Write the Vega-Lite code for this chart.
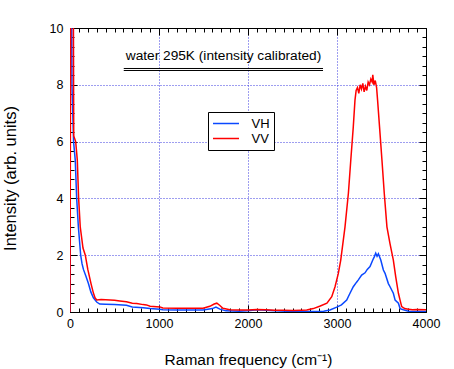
{
  "$schema": "https://vega.github.io/schema/vega-lite/v6.json",
  "width": 356,
  "height": 284,
  "autosize": "none",
  "padding": {"left": 70, "top": 28, "right": 28, "bottom": 57},
  "background": "white",
  "config": {
    "font": "Liberation Sans",
    "view": {"stroke": "black", "strokeWidth": 1},
    "axis": {"domain": false, "grid": false, "labelColor": "black", "titleColor": "black", "titleFontWeight": "normal", "tickColor": "black"}
  },
  "datasets": {
    "spectra": [
      {"f": 0, "i": 0, "s": "VH"}, {"f": 5, "i": 14, "s": "VH"}, {"f": 15, "i": 14, "s": "VH"}, {"f": 22, "i": 8.0, "s": "VH"},
      {"f": 40, "i": 6.0, "s": "VH"}, {"f": 59, "i": 5.35, "s": "VH"}, {"f": 75, "i": 4.0, "s": "VH"}, {"f": 94, "i": 3.0, "s": "VH"},
      {"f": 120, "i": 2.0, "s": "VH"}, {"f": 135, "i": 1.7, "s": "VH"}, {"f": 151, "i": 1.5, "s": "VH"}, {"f": 180, "i": 1.25, "s": "VH"},
      {"f": 207, "i": 1.0, "s": "VH"}, {"f": 235, "i": 0.7, "s": "VH"}, {"f": 263, "i": 0.5, "s": "VH"}, {"f": 300, "i": 0.35, "s": "VH"},
      {"f": 334, "i": 0.28, "s": "VH"}, {"f": 400, "i": 0.27, "s": "VH"}, {"f": 500, "i": 0.26, "s": "VH"}, {"f": 634, "i": 0.24, "s": "VH"},
      {"f": 700, "i": 0.18, "s": "VH"}, {"f": 822, "i": 0.15, "s": "VH"}, {"f": 900, "i": 0.12, "s": "VH"}, {"f": 1009, "i": 0.1, "s": "VH"},
      {"f": 1043, "i": 0.08, "s": "VH"}, {"f": 1200, "i": 0.07, "s": "VH"}, {"f": 1495, "i": 0.07, "s": "VH"}, {"f": 1600, "i": 0.12, "s": "VH"},
      {"f": 1640, "i": 0.17, "s": "VH"}, {"f": 1684, "i": 0.1, "s": "VH"}, {"f": 1750, "i": 0.04, "s": "VH"}, {"f": 1900, "i": 0.03, "s": "VH"},
      {"f": 2000, "i": 0.04, "s": "VH"}, {"f": 2100, "i": 0.08, "s": "VH"}, {"f": 2200, "i": 0.06, "s": "VH"}, {"f": 2300, "i": 0.04, "s": "VH"},
      {"f": 2500, "i": 0.02, "s": "VH"}, {"f": 2700, "i": 0.02, "s": "VH"}, {"f": 2850, "i": 0.03, "s": "VH"}, {"f": 2921, "i": 0.07, "s": "VH"},
      {"f": 2997, "i": 0.17, "s": "VH"}, {"f": 3050, "i": 0.25, "s": "VH"}, {"f": 3109, "i": 0.42, "s": "VH"}, {"f": 3146, "i": 0.66, "s": "VH"},
      {"f": 3183, "i": 0.89, "s": "VH"}, {"f": 3220, "i": 1.05, "s": "VH"}, {"f": 3240, "i": 1.13, "s": "VH"}, {"f": 3277, "i": 1.3, "s": "VH"},
      {"f": 3315, "i": 1.38, "s": "VH"}, {"f": 3340, "i": 1.5, "s": "VH"}, {"f": 3371, "i": 1.6, "s": "VH"}, {"f": 3402, "i": 1.83, "s": "VH"},
      {"f": 3420, "i": 1.95, "s": "VH"}, {"f": 3435, "i": 2.07, "s": "VH"}, {"f": 3450, "i": 1.96, "s": "VH"}, {"f": 3465, "i": 2.05, "s": "VH"},
      {"f": 3492, "i": 1.83, "s": "VH"}, {"f": 3521, "i": 1.48, "s": "VH"}, {"f": 3540, "i": 1.36, "s": "VH"}, {"f": 3577, "i": 1.0, "s": "VH"},
      {"f": 3596, "i": 0.89, "s": "VH"}, {"f": 3633, "i": 0.66, "s": "VH"}, {"f": 3653, "i": 0.42, "s": "VH"}, {"f": 3690, "i": 0.31, "s": "VH"},
      {"f": 3709, "i": 0.12, "s": "VH"}, {"f": 3746, "i": 0.08, "s": "VH"}, {"f": 3802, "i": 0.03, "s": "VH"}, {"f": 3900, "i": 0.02, "s": "VH"},
      {"f": 4000, "i": 0.02, "s": "VH"},
      {"f": 0, "i": 0, "s": "VV"}, {"f": 10, "i": 14, "s": "VV"}, {"f": 35, "i": 14, "s": "VV"}, {"f": 42, "i": 6.2, "s": "VV"},
      {"f": 64, "i": 6.0, "s": "VV"}, {"f": 82, "i": 5.35, "s": "VV"}, {"f": 97, "i": 4.0, "s": "VV"}, {"f": 115, "i": 3.0, "s": "VV"},
      {"f": 146, "i": 2.25, "s": "VV"}, {"f": 172, "i": 2.0, "s": "VV"}, {"f": 200, "i": 1.5, "s": "VV"}, {"f": 236, "i": 1.0, "s": "VV"},
      {"f": 260, "i": 0.7, "s": "VV"}, {"f": 281, "i": 0.5, "s": "VV"}, {"f": 300, "i": 0.42, "s": "VV"}, {"f": 350, "i": 0.44, "s": "VV"},
      {"f": 400, "i": 0.43, "s": "VV"}, {"f": 450, "i": 0.42, "s": "VV"}, {"f": 500, "i": 0.41, "s": "VV"}, {"f": 560, "i": 0.39, "s": "VV"},
      {"f": 634, "i": 0.36, "s": "VV"}, {"f": 700, "i": 0.31, "s": "VV"}, {"f": 750, "i": 0.3, "s": "VV"}, {"f": 822, "i": 0.26, "s": "VV"},
      {"f": 859, "i": 0.25, "s": "VV"}, {"f": 900, "i": 0.2, "s": "VV"}, {"f": 1009, "i": 0.18, "s": "VV"}, {"f": 1043, "i": 0.14, "s": "VV"},
      {"f": 1200, "i": 0.13, "s": "VV"}, {"f": 1350, "i": 0.13, "s": "VV"}, {"f": 1495, "i": 0.13, "s": "VV"}, {"f": 1571, "i": 0.2, "s": "VV"},
      {"f": 1620, "i": 0.28, "s": "VV"}, {"f": 1650, "i": 0.31, "s": "VV"}, {"f": 1684, "i": 0.23, "s": "VV"}, {"f": 1718, "i": 0.13, "s": "VV"},
      {"f": 1797, "i": 0.08, "s": "VV"}, {"f": 1900, "i": 0.07, "s": "VV"}, {"f": 2000, "i": 0.07, "s": "VV"}, {"f": 2100, "i": 0.09, "s": "VV"},
      {"f": 2200, "i": 0.08, "s": "VV"}, {"f": 2300, "i": 0.06, "s": "VV"}, {"f": 2400, "i": 0.06, "s": "VV"}, {"f": 2500, "i": 0.05, "s": "VV"},
      {"f": 2600, "i": 0.06, "s": "VV"}, {"f": 2660, "i": 0.07, "s": "VV"}, {"f": 2734, "i": 0.12, "s": "VV"}, {"f": 2812, "i": 0.21, "s": "VV"},
      {"f": 2887, "i": 0.31, "s": "VV"}, {"f": 2941, "i": 0.54, "s": "VV"}, {"f": 2978, "i": 0.89, "s": "VV"}, {"f": 3015, "i": 1.36, "s": "VV"},
      {"f": 3042, "i": 1.83, "s": "VV"}, {"f": 3090, "i": 3.0, "s": "VV"}, {"f": 3128, "i": 4.18, "s": "VV"}, {"f": 3155, "i": 5.35, "s": "VV"},
      {"f": 3183, "i": 6.52, "s": "VV"}, {"f": 3202, "i": 7.46, "s": "VV"}, {"f": 3215, "i": 7.8, "s": "VV"}, {"f": 3230, "i": 7.9, "s": "VV"},
      {"f": 3245, "i": 7.7, "s": "VV"}, {"f": 3260, "i": 8.0, "s": "VV"}, {"f": 3275, "i": 7.85, "s": "VV"}, {"f": 3290, "i": 8.05, "s": "VV"},
      {"f": 3305, "i": 7.75, "s": "VV"}, {"f": 3320, "i": 7.95, "s": "VV"}, {"f": 3335, "i": 7.8, "s": "VV"}, {"f": 3350, "i": 8.1, "s": "VV"},
      {"f": 3365, "i": 8.0, "s": "VV"}, {"f": 3380, "i": 8.2, "s": "VV"}, {"f": 3395, "i": 8.1, "s": "VV"}, {"f": 3402, "i": 8.35, "s": "VV"},
      {"f": 3415, "i": 8.0, "s": "VV"}, {"f": 3430, "i": 8.15, "s": "VV"}, {"f": 3445, "i": 7.9, "s": "VV"}, {"f": 3456, "i": 7.46, "s": "VV"},
      {"f": 3478, "i": 6.52, "s": "VV"}, {"f": 3505, "i": 5.35, "s": "VV"}, {"f": 3531, "i": 4.18, "s": "VV"}, {"f": 3561, "i": 3.0, "s": "VV"},
      {"f": 3596, "i": 2.4, "s": "VV"}, {"f": 3633, "i": 1.83, "s": "VV"}, {"f": 3660, "i": 1.24, "s": "VV"}, {"f": 3690, "i": 0.66, "s": "VV"},
      {"f": 3710, "i": 0.4, "s": "VV"}, {"f": 3727, "i": 0.19, "s": "VV"}, {"f": 3760, "i": 0.12, "s": "VV"}, {"f": 3802, "i": 0.1, "s": "VV"},
      {"f": 3850, "i": 0.08, "s": "VV"}, {"f": 3900, "i": 0.09, "s": "VV"}, {"f": 4000, "i": 0.08, "s": "VV"}
    ]
  },
  "resolve": {"axis": {"x": "independent", "y": "independent"}},
  "layer": [
    {
      "data": {"values": []},
      "mark": {"type": "point", "opacity": 0},
      "encoding": {
        "x": {"field": "f", "type": "quantitative", "scale": {"domain": [0, 4000], "nice": false, "zero": false},
              "axis": {"orient": "bottom", "values": [1000, 2000, 3000], "labels": false, "ticks": false, "title": null, "grid": true, "gridColor": "#3c3ce0", "gridDash": [1, 2], "gridWidth": 1}},
        "y": {"field": "i", "type": "quantitative", "scale": {"domain": [0, 10], "nice": false, "zero": false},
              "axis": {"orient": "left", "values": [2, 4, 6, 8], "labels": false, "ticks": false, "title": null, "grid": true, "gridColor": "#3c3ce0", "gridDash": [1, 2], "gridWidth": 1}}
      }
    },
    {
      "data": {"name": "spectra"},
      "mark": {"type": "line", "strokeWidth": 1.5, "clip": true},
      "encoding": {
        "x": {"field": "f", "type": "quantitative",
              "axis": {"orient": "bottom", "values": [0, 1000, 2000, 3000, 4000], "format": "d", "ticks": false, "labelPadding": 5, "labelFontSize": 12.5, "labelFlush": false,
                       "title": "Raman frequency (cm⁻¹)", "titleFontSize": 15.5, "titleX": 178, "titleY": 52, "titleBaseline": "alphabetic", "titleAnchor": "middle", "titleAlign": "center"}},
        "y": {"field": "i", "type": "quantitative",
              "axis": {"orient": "left", "values": [0, 2, 4, 6, 8, 10], "ticks": false, "labelPadding": 7, "labelFontSize": 12.5, "labelFlush": false,
                       "title": "Intensity (arb. units)", "titleFontSize": 16.5, "titleX": -60, "titleY": 150, "titleAngle": -90, "titleBaseline": "middle", "titleAlign": "center"}},
        "color": {"field": "s", "type": "nominal", "scale": {"domain": ["VH", "VV"], "range": ["#0a48ff", "#ff0000"]},
                  "legend": {"orient": "none", "legendX": 138, "legendY": 84, "title": null, "strokeColor": "black", "fillColor": "white", "padding": 4,
                             "symbolType": "M-2,0H2", "symbolSize": 169, "symbolOffset": 6.5, "symbolStrokeWidth": 1.5, "labelFontSize": 13, "labelOffset": 18, "rowPadding": 0}},
        "detail": {"field": "s"}
      }
    },
    {
      "data": {"values": []},
      "mark": {"type": "point", "opacity": 0},
      "encoding": {
        "x": {"field": "f", "type": "quantitative", "axis": {"orient": "bottom", "values": [0, 1000, 2000, 3000, 4000], "labels": false, "ticks": true, "title": null, "tickSize": -7}},
        "y": {"field": "i", "type": "quantitative", "axis": {"orient": "left", "values": [0, 2, 4, 6, 8, 10], "labels": false, "ticks": true, "title": null, "tickSize": -7}}
      }
    },
    {
      "data": {"values": []},
      "mark": {"type": "point", "opacity": 0},
      "encoding": {
        "x": {"field": "f", "type": "quantitative", "axis": {"orient": "bottom", "labels": false, "ticks": true, "title": null, "tickSize": -4,
              "values": [0,100,200,300,400,500,600,700,800,900,1000,1100,1200,1300,1400,1500,1600,1700,1800,1900,2000,2100,2200,2300,2400,2500,2600,2700,2800,2900,3000,3100,3200,3300,3400,3500,3600,3700,3800,3900,4000]}},
        "y": {"field": "i", "type": "quantitative", "axis": {"orient": "left", "labels": false, "ticks": true, "title": null, "tickSize": -4,
              "values": [0.3333,0.6667,1,1.3333,1.6667,2,2.3333,2.6667,3,3.3333,3.6667,4,4.3333,4.6667,5,5.3333,5.6667,6,6.3333,6.6667,7,7.3333,7.6667,8,8.3333,8.6667,9,9.3333,9.6667]}}
      }
    },
    {
      "data": {"values": []},
      "mark": {"type": "point", "opacity": 0},
      "encoding": {
        "x": {"field": "f", "type": "quantitative", "axis": {"orient": "top", "values": [0, 1000, 2000, 3000, 4000], "labels": false, "ticks": true, "title": null, "tickSize": -7}},
        "y": {"field": "i", "type": "quantitative", "axis": {"orient": "right", "values": [0, 2, 4, 6, 8, 10], "labels": false, "ticks": true, "title": null, "tickSize": -7}}
      }
    },
    {
      "data": {"values": []},
      "mark": {"type": "point", "opacity": 0},
      "encoding": {
        "x": {"field": "f", "type": "quantitative", "axis": {"orient": "top", "labels": false, "ticks": true, "title": null, "tickSize": -4,
              "values": [0,100,200,300,400,500,600,700,800,900,1000,1100,1200,1300,1400,1500,1600,1700,1800,1900,2000,2100,2200,2300,2400,2500,2600,2700,2800,2900,3000,3100,3200,3300,3400,3500,3600,3700,3800,3900,4000]}},
        "y": {"field": "i", "type": "quantitative", "axis": {"orient": "right", "labels": false, "ticks": true, "title": null, "tickSize": -4,
              "values": [0.3333,0.6667,1,1.3333,1.6667,2,2.3333,2.6667,3,3.3333,3.6667,4,4.3333,4.6667,5,5.3333,5.6667,6,6.3333,6.6667,7,7.3333,7.6667,8,8.3333,8.6667,9,9.3333,9.6667]}}
      }
    },
    {
      "data": {"values": [{"label": "water 295K (intensity calibrated)", "x": 1725, "y": 8.87}]},
      "mark": {"type": "text", "fontSize": 13.7, "align": "center", "baseline": "alphabetic", "color": "black"},
      "encoding": {
        "x": {"field": "x", "type": "quantitative", "axis": null},
        "y": {"field": "y", "type": "quantitative", "axis": null},
        "text": {"field": "label"}
      }
    },
    {
      "data": {"values": [{"x": 604, "x2": 2843, "y": 8.574}, {"x": 604, "x2": 2843, "y": 8.504}]},
      "mark": {"type": "rule", "color": "black", "strokeWidth": 1},
      "encoding": {
        "x": {"field": "x", "type": "quantitative", "axis": null},
        "x2": {"field": "x2"},
        "y": {"field": "y", "type": "quantitative", "axis": null}
      }
    }
  ]
}
